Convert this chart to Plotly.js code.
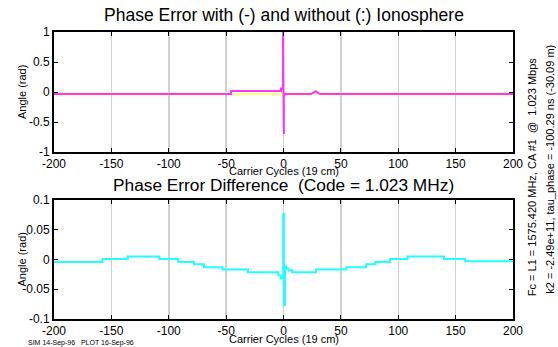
<!DOCTYPE html>
<html><head><meta charset="utf-8">
<script src="https://cdn.plot.ly/plotly-3.0.1.min.js"></script>
<style>html,body{margin:0;padding:0;background:#fff}#plot{width:558px;height:347px}</style>
</head><body><div id="plot"></div>
<script>
// Top plot: phase error with ionosphere (magenta, solid)
const withIonoX = [-200, -45.7, -45.7, -2.2, -2.2, -0.4, -0.4, 0.3, 0.3, 0.9, 1.6, 24, 26, 28, 30, 32, 200];
const withIonoY = [-0.035, -0.035, 0.017, 0.017, 0.057, 0.057, 1.0, -0.7, -0.06, -0.05, -0.035, -0.035, -0.015, 0.012, -0.015, -0.035, -0.035];
// Top plot: phase error without ionosphere (yellow, dotted)
const noIonoX = [-200, -100, 0, 100, 200];
const noIonoY = [-0.03, -0.03, -0.03, -0.03, -0.03];
// Bottom plot: phase error difference (cyan), stepwise
const diffX = [-200, -157.6, -135.8, -108.2, -91.7, -78, -69.3, -53, -31, -4.5, -2.4, -0.3, 0.3, 1.3, 2.8, 4.2, 7.5, 28.3, 55, 72, 80, 92.8, 107.9, 139.9, 158.2, 200];
const diffY = [-0.004, 0.001, 0.005, 0.001, -0.004, -0.008, -0.013, -0.017, -0.0215, -0.027, -0.032, 0.0765, -0.0765, -0.012, -0.015, -0.018, -0.0215, -0.017, -0.013, -0.008, -0.004, 0.001, 0.005, 0.001, -0.003, -0.003];

const xTicks = [-200, -150, -100, -50, 0, 50, 100, 150, 200];
const yTicksTop = [-1, -0.5, 0, 0.5, 1];
const yTicksBot = [-0.1, -0.05, 0, 0.05, 0.1];

const titleTop = "Phase Error with (-) and without (:) Ionosphere";
const titleBot = "Phase Error Difference  (Code = 1.023 MHz)";
const xTitle = "Carrier Cycles (19 cm)";
const yTitle = "Angle (rad)";
const sideText1 = "Fc = L1 = 1575.420 MHz, CA #1  @  1.023 Mbps";
const sideText2 = "k2 = -2.49e+11, tau_phase = -100.29 ns (-30.09 m)";
const footText = "SIM 14-Sep-96   PLOT 16-Sep-96";

const FONT = "Liberation Sans, Arial, sans-serif";

const traces = [
  {x: noIonoX, y: noIonoY, xaxis: 'x', yaxis: 'y', mode: 'lines', line: {color: '#ffff99', width: 3}, hoverinfo: 'skip'},
  {x: withIonoX, y: withIonoY, xaxis: 'x', yaxis: 'y', mode: 'lines', line: {color: '#ff33ff', width: 2}, hoverinfo: 'skip'},
  {x: diffX, y: diffY, xaxis: 'x2', yaxis: 'y2', mode: 'lines', line: {color: '#22ffff', width: 2, shape: 'hv'}, hoverinfo: 'skip'}
];

function xa(anchor) {
  return {
    anchor: anchor, range: [-200, 200], tickvals: xTicks, ticktext: xTicks.map(String),
    showgrid: true, gridcolor: '#d0d0d0', gridwidth: 1.5, zeroline: false,
    showline: true, linecolor: '#000', linewidth: 2, mirror: 'ticks',
    ticks: 'inside', ticklen: 4, tickcolor: '#000', tickwidth: 1,
    tickfont: {family: FONT, size: 12, color: '#000'}
  };
}
function ya(anchor, domain, range, ticks) {
  return {
    anchor: anchor, domain: domain, range: range, tickvals: ticks, ticktext: ticks.map(String),
    showgrid: false, zeroline: false,
    showline: true, linecolor: '#000', linewidth: 2, mirror: 'ticks',
    ticks: 'inside', ticklen: 4, tickcolor: '#000', tickwidth: 1,
    tickfont: {family: FONT, size: 12, color: '#000'}
  };
}

const layout = {
  width: 558, height: 347,
  margin: {l: 54, r: 45, t: 32, b: 28},
  paper_bgcolor: '#fff', plot_bgcolor: '#fff',
  showlegend: false,
  xaxis: xa('y'),
  yaxis: ya('x', [0.5819, 1], [-1, 1], yTicksTop),
  xaxis2: xa('y2'),
  yaxis2: ya('x2', [0, 0.4146], [-0.1, 0.1], yTicksBot),
  annotations: [
    {text: titleTop, xref: 'paper', yref: 'paper', x: 0.5, y: 1, yshift: 17, xanchor: 'center', yanchor: 'middle', showarrow: false, font: {family: FONT, size: 17.5, color: '#000'}},
    {text: titleBot, xref: 'paper', yref: 'paper', x: 0.5, y: 0.4146, yshift: 15, xanchor: 'center', yanchor: 'middle', showarrow: false, font: {family: FONT, size: 17.3, color: '#000'}},
    {text: xTitle, xref: 'paper', yref: 'paper', x: 0.5, y: 0.5819, yshift: -19, xanchor: 'center', yanchor: 'middle', showarrow: false, font: {family: FONT, size: 11, color: '#000'}},
    {text: xTitle, xref: 'paper', yref: 'paper', x: 0.5, y: 0, yshift: -20, xanchor: 'center', yanchor: 'middle', showarrow: false, font: {family: FONT, size: 11, color: '#000'}},
    {text: yTitle, xref: 'paper', yref: 'paper', x: 0, xshift: -32, y: 0.7909, textangle: -90, xanchor: 'center', yanchor: 'middle', showarrow: false, font: {family: FONT, size: 11, color: '#000'}},
    {text: yTitle, xref: 'paper', yref: 'paper', x: 0, xshift: -32, y: 0.2073, textangle: -90, xanchor: 'center', yanchor: 'middle', showarrow: false, font: {family: FONT, size: 11, color: '#000'}},
    {text: sideText1, xref: 'paper', yref: 'paper', x: 1, xshift: 19, y: 0.494, textangle: -90, xanchor: 'center', yanchor: 'middle', showarrow: false, font: {family: FONT, size: 11, color: '#000'}},
    {text: sideText2, xref: 'paper', yref: 'paper', x: 1, xshift: 37, y: 0.52, textangle: -90, xanchor: 'center', yanchor: 'middle', showarrow: false, font: {family: FONT, size: 11, color: '#000'}},
    {text: footText, xref: 'paper', yref: 'paper', x: 0, xshift: -28, y: 0, yshift: -24, xanchor: 'left', yanchor: 'middle', showarrow: false, font: {family: FONT, size: 7, color: '#000'}}
  ]
};

Plotly.newPlot('plot', traces, layout, {staticPlot: true, displayModeBar: false});
</script></body></html>
